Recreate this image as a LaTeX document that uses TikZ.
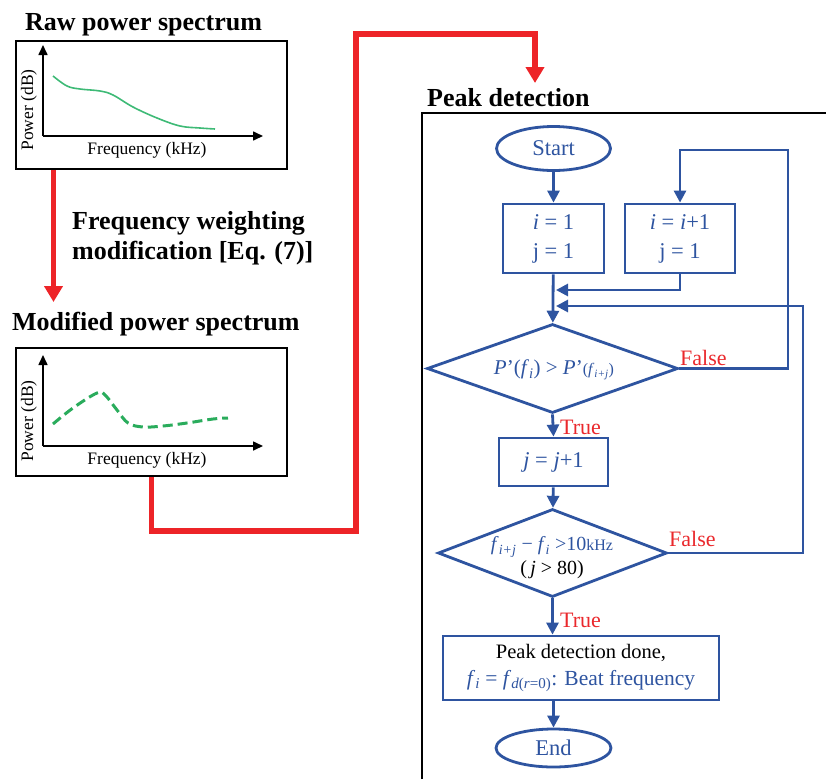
\documentclass[tikz,border=0pt]{standalone}
\usepackage{fontspec}
\setmainfont{Liberation Serif}
\usetikzlibrary{arrows.meta,shapes.geometric}
\definecolor{flowblue}{RGB}{46,84,160}
\definecolor{linkred}{RGB}{237,36,40}
\definecolor{labelred}{RGB}{234,40,44}
\definecolor{curvegreen}{RGB}{62,186,118}
\definecolor{dashgreen}{RGB}{42,172,92}
\newcommand\sbs[1]{\textsubscript{#1}}
\begin{document}
\begin{tikzpicture}[x=1pt,y=-1pt,
  plotframe/.style={draw=black, line width=2pt, minimum width=271pt, minimum height=128pt, inner sep=0},
  axis/.style={line width=1.6pt, -{Triangle[length=10pt,width=9pt]}},
  title/.style={font=\fontsize{26}{30}\selectfont\bfseries, anchor=base west, inner sep=0},
  axislabel/.style={font=\fontsize{17.5}{20}\selectfont, inner sep=0},
  flow/.style={draw=flowblue, line width=2.8pt, text=flowblue, font=\fontsize{22.5}{29}\selectfont, inner sep=0, align=center},
  flowbox/.style={flow, rectangle},
  terminal/.style={flow, ellipse},
  decision/.style={draw=flowblue, line width=2.8pt, diamond, inner sep=0},
  flowtext/.style={text=flowblue, font=\fontsize{21}{25}\selectfont, inner sep=0, align=center},
  flowarrow/.style={draw=flowblue, line width=2.8pt, -{Triangle[length=12pt,width=12pt]}},
  verdict/.style={text=labelred, font=\fontsize{22}{26}\selectfont, inner sep=0, anchor=base west},
  redlink/.style={draw=linkred, line width=5.5pt, -{Triangle[length=16pt,width=18pt]}}
]
\useasboundingbox (0,0) rectangle (826,779);

% ---- raw spectrum panel ----
\node[title] (rawtitle) at (25,30.5) {Raw power spectrum};
\node[plotframe] (raw) at (151.5,105) {};
\coordinate (rawo) at (43,136);
\draw[axis] (rawo) -- (43,45);
\draw[axis] (rawo) -- (263,136);
\draw[curvegreen, line width=1.6pt] plot[smooth, tension=0.6] coordinates
  {(53,76) (67,86) (80,89) (100,91) (113,95) (133,107) (157,118) (180,126) (200,128) (215,129)};
\node[axislabel, anchor=base] (rawx) at (147,154) {Frequency (kHz)};
\node[axislabel, rotate=90] (rawy) at (29,110) {Power (dB)};

% ---- weighting step ----
\coordinate (modtip) at (53.5,302);
\draw[redlink] (raw.south -| modtip) -- (modtip);
\node[title] (wt1) at (72,229) {Frequency weighting};
\node[title] (wt2) at (72,259) {modification [Eq. (7)]};

% ---- modified spectrum panel ----
\node[title] (modtitle) at (12,330) {Modified power spectrum};
\node[plotframe] (mod) at (151.5,412) {};
\coordinate (modo) at (43,446);
\draw[axis] (modo) -- (43,355);
\draw[axis] (modo) -- (263,446);
\draw[dashgreen, line width=3pt, dash pattern=on 10pt off 5pt] plot[smooth, tension=0.6] coordinates
  {(53,424) (73,408) (97,393) (105,395) (117,410) (128,423) (143,427) (163,426) (187,423) (213,419) (228,418)};
\node[axislabel, anchor=base] (modx) at (147,464) {Frequency (kHz)};
\node[axislabel, rotate=90] (mody) at (29,421) {Power (dB)};

% ---- link to peak detection ----
\coordinate (lk1) at (356,531);
\coordinate (lk2) at (535,34);
\coordinate (peaktip) at (535,83);
\draw[redlink] (mod.south) |- (lk1) |- (lk2) -- (peaktip);

% ---- peak detection frame ----
\node[title] (peaktitle) at (427,106) {Peak detection};
\draw[line width=2pt] (421.5,779) -- (421.5,113) -- (826,113);

% ---- flowchart ----
\node[terminal, minimum width=114pt, minimum height=44pt] (start) at (553.5,148.5) {Start};
\node[flowbox, minimum width=101pt, minimum height=69pt] (b1) at (553.5,238.5)
  {\textit{i} = 1\\j = 1};
\node[flowbox, minimum width=110pt, minimum height=69pt] (b2) at (680,238.5)
  {\textit{i} = \textit{i}+1\\j = 1};
\node[decision, minimum width=251pt, minimum height=89pt] (d1) at (552.5,368.5) {};
\node[flowtext] (d1t) at (554,370)
  {\textit{P}’(\textit{f}\sbs{\textit{i}}) > \textit{P}’{\fontsize{16}{16}\selectfont(\textit{f}\sbs{\textit{i+j}})}};
\node[flowbox, minimum width=109pt, minimum height=48pt] (b3) at (553.5,462)
  {\textit{j} = \textit{j}+1};
\node[decision, minimum width=229pt, minimum height=88pt] (d2) at (552.5,553) {};
\node[flowtext, font=\fontsize{20}{24}\selectfont] (d2t) at (552,558)
  {\textit{f}\sbs{\textit{i+j}} − \textit{f}\sbs{\textit{i}} >10{\fontsize{16}{16}\selectfont kHz}\\
   \textcolor{black}{(\,\textit{j} > 80)}};
\node[flowbox, minimum width=276pt, minimum height=64pt, font=\fontsize{21.5}{27}\selectfont] (b4) at (581,668)
  {\textcolor{black}{\fontsize{20.5}{27}\selectfont Peak detection done,}\\
   \textit{f}\sbs{\textit{i}} = \textit{f}\sbs{\textit{d}(\textit{r}=0)}: Beat frequency};
\node[terminal, minimum width=115pt, minimum height=38pt] (end) at (553.5,748) {End};

\coordinate (join1) at (556,290);
\coordinate (join2) at (556,306);
\coordinate (loop1) at (788,150);
\coordinate (loop2) at (803,306);

\draw[flowarrow] (start) -- (b1);
\draw[flowarrow] (b1) -- (d1);
\draw[flowarrow] (b2.south) |- (join1);
\draw[flowarrow] (d1.east) -| (loop1) -| (b2.north);
\draw[flowarrow] (d1.south) -- (b3.north);
\draw[flowarrow] (b3) -- (d2);
\draw[flowarrow] (d2.east) -| (loop2) -- (join2);
\draw[flowarrow] (d2.south) -- (d2.south |- b4.north);
\draw[flowarrow] (end.north |- b4.south) -- (end.north);

\node[verdict] (f1) at (680,365) {False};
\node[verdict] (t1) at (560,434) {True};
\node[verdict] (f2) at (669,546) {False};
\node[verdict] (t2) at (560,627) {True};
\end{tikzpicture}
\end{document}
